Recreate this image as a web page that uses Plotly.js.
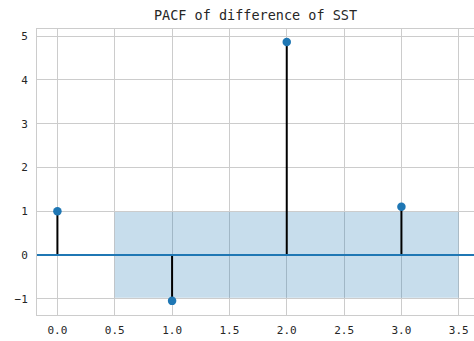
<!DOCTYPE html>
<html>
<head>
<meta charset="utf-8">
<script src="https://cdn.plot.ly/plotly-3.0.1.min.js"></script>
<style>
  html, body { margin: 0; padding: 0; background: #fff; }
  #chart { width: 474px; height: 341px; }
</style>
</head>
<body>
<div id="chart"></div>
<script>
// Partial autocorrelation of the differenced SST series
const lags = [0, 1, 2, 3];
const pacfValues = [1.0, -1.05, 4.87, 1.10];

// 95% confidence band (lags 1..3), drawn from half a lag before to half after
const bandX = [0.5, 3.5];
const bandHalfWidth = [0.98, 0.98];

const xTicks = [0.0, 0.5, 1.0, 1.5, 2.0, 2.5, 3.0, 3.5];
const xTickText = ['0.0', '0.5', '1.0', '1.5', '2.0', '2.5', '3.0', '3.5'];
const yTicks = [-1, 0, 1, 2, 3, 4, 5];

// stems: vertical segments from zero to each value
const stemX = [], stemY = [];
lags.forEach((lag, i) => {
  stemX.push(lag, lag, null);
  stemY.push(0, pacfValues[i], null);
});

const blue = '#1f77b4';
const textColor = '#262626';
const mono = 'DejaVu Sans Mono, monospace';

const traces = [
  {
    x: [bandX[0], bandX[1], bandX[1], bandX[0]],
    y: [bandHalfWidth[0], bandHalfWidth[1], -bandHalfWidth[1], -bandHalfWidth[0]],
    mode: 'lines',
    fill: 'toself',
    fillcolor: 'rgba(31,119,180,0.25)',
    line: { width: 0 },
    hoverinfo: 'skip'
  },
  {
    x: stemX,
    y: stemY,
    mode: 'lines',
    line: { color: '#000000', width: 2 },
    hoverinfo: 'skip'
  },
  {
    x: lags,
    y: pacfValues,
    mode: 'markers',
    marker: { color: blue, size: 8.5 }
  }
];

const layout = {
  width: 474,
  height: 341,
  margin: { l: 37, r: 0, t: 29, b: 26 },
  paper_bgcolor: '#ffffff',
  plot_bgcolor: '#ffffff',
  showlegend: false,
  title: {
    text: 'PACF of difference of SST',
    font: { family: mono, size: 13.5, color: textColor },
    xref: 'paper', x: 0.5, xanchor: 'center',
    yref: 'container', y: 1 - 15 / 341, yanchor: 'middle'
  },
  xaxis: {
    range: [-0.178, 3.633],
    tickvals: xTicks,
    ticktext: xTickText,
    showgrid: true,
    gridcolor: '#cccccc',
    gridwidth: 1,
    zeroline: false,
    showline: true,
    mirror: true,
    linecolor: '#cccccc',
    linewidth: 1,
    ticks: '',
    ticklabelstandoff: 5,
    tickfont: { family: mono, size: 11, color: textColor }
  },
  yaxis: {
    range: [-1.373, 5.165],
    tickvals: yTicks,
    showgrid: true,
    gridcolor: '#cccccc',
    gridwidth: 1,
    zeroline: false,
    showline: true,
    linecolor: '#cccccc',
    linewidth: 1,
    ticks: '',
    ticklabelstandoff: 6,
    tickfont: { family: mono, size: 11, color: textColor }
  },
  shapes: [
    {
      type: 'line',
      xref: 'paper', x0: 0, x1: 1,
      yref: 'y', y0: 0, y1: 0,
      line: { color: blue, width: 2 },
      layer: 'above'
    }
  ]
};

Plotly.newPlot('chart', traces, layout, { displayModeBar: false, staticPlot: true });
</script>
</body>
</html>
